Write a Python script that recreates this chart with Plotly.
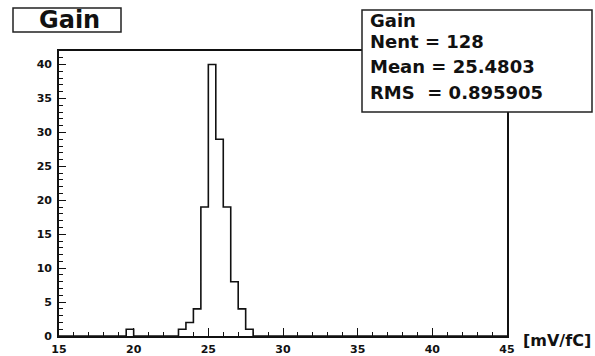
import plotly.graph_objects as go

# ---- data ----
bin_low = 15.0
bin_width = 0.5
counts = [0, 0, 0, 0, 0, 0, 0, 0, 0, 1,
          0, 0, 0, 0, 0, 0, 1, 2, 4, 19,
          40, 29, 19, 8, 4, 1, 0, 0, 0, 0,
          0, 0, 0, 0, 0, 0, 0, 0, 0, 0,
          0, 0, 0, 0, 0, 0, 0, 0, 0, 0,
          0, 0, 0, 0, 0, 0, 0, 0, 0, 0]
x_ticks = [15, 20, 25, 30, 35, 40, 45]
y_ticks = [0, 5, 10, 15, 20, 25, 30, 35, 40]
title_text = "Gain"
stats_lines = ["Gain", "Nent = 128", "Mean = 25.4803", "RMS  = 0.895905"]
x_unit = "[mV/fC]"

# ---- geometry (pixels) ----
W, H = 595, 356
L, R, T, B = 59, 507, 51, 336
pw, ph = R - L, B - T


def px(x):
    return (x - L) / pw


def py(y):
    return (B - y) / ph


edges = [bin_low + bin_width * i for i in range(len(counts) + 1)]
ys = counts + [counts[-1]]

FONT = "DejaVu Sans, Arial, sans-serif"

fig = go.Figure()
fig.add_trace(go.Scatter(
    x=edges, y=ys, mode="lines", line=dict(shape="hv", color="#111", width=1.6),
    hoverinfo="skip", showlegend=False, cliponaxis=False))

axis_common = dict(
    showgrid=False, zeroline=False, showline=True, linecolor="#111", linewidth=1.6,
    mirror=True, ticks="inside", tickcolor="#111", tickwidth=1.2, automargin=False,
    tickfont=dict(family=FONT, size=11, color="#111", weight="bold"),
)
fig.update_xaxes(range=[15, 45], tickvals=x_ticks, ticklen=8, ticklabelstandoff=2,
                 minor=dict(ticks="inside", dtick=1, ticklen=4, tickcolor="#111", tickwidth=1),
                 **axis_common)
fig.update_yaxes(range=[0, 42], tickvals=y_ticks, ticklen=7, ticklabelstandoff=3,
                 minor=dict(ticks="inside", dtick=1, ticklen=4, tickcolor="#111", tickwidth=1),
                 **axis_common)

shapes = []
annotations = []
# title box
shapes.append(dict(type="rect", xref="paper", yref="paper",
                   x0=px(13), x1=px(121), y0=py(32), y1=py(8),
                   line=dict(color="#222", width=1.5), fillcolor="white", layer="above"))
annotations.append(dict(xref="paper", yref="paper", x=px(69), y=py(20), text=title_text,
                        showarrow=False, xanchor="center", yanchor="middle",
                        font=dict(family=FONT, size=24, color="#111", weight="bold")))
# stats box
shapes.append(dict(type="rect", xref="paper", yref="paper",
                   x0=px(362), x1=px(592), y0=py(112), y1=py(10),
                   line=dict(color="#222", width=1.5), fillcolor="white", layer="above"))
line_y = [21, 42, 67, 92]
for i, (t, yy) in enumerate(zip(stats_lines, line_y)):
    annotations.append(dict(xref="paper", yref="paper", x=px(368), y=py(yy), text=t,
                            showarrow=False, xanchor="left", yanchor="middle",
                            font=dict(family=FONT, size=18, color="#111", weight="bold")))
# unit label
annotations.append(dict(xref="paper", yref="paper", x=px(521), y=py(340), text=x_unit,
                        showarrow=False, xanchor="left", yanchor="middle",
                        font=dict(family=FONT, size=16, color="#111", weight="bold")))

fig.update_layout(
    width=W, height=H, margin=dict(l=L, r=W - R, t=T, b=H - B),
    paper_bgcolor="white", plot_bgcolor="white",
    shapes=shapes, annotations=annotations, showlegend=False,
)

fig.write_html("out.html")
